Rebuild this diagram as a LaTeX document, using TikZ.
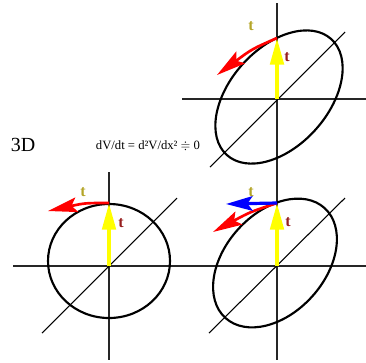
\documentclass[tikz,border=0pt]{standalone}
\usepackage{fontspec}
\usepackage{amssymb}
\setmainfont{Liberation Serif}
\usetikzlibrary{arrows.meta}
\definecolor{tyel}{RGB}{255,255,0}
\definecolor{tred}{RGB}{255,0,0}
\definecolor{tblue}{RGB}{0,0,255}
\definecolor{tolive}{RGB}{180,165,40}
\definecolor{tdred}{RGB}{150,30,30}
\begin{document}
\begin{tikzpicture}[x=0.75pt, y=-0.75pt,
  axis/.style={line width=1pt, black!85},
  diag/.style={line width=0.8pt, black},
  orbit/.style={line width=1.6pt, black},
  yarrow/.style={draw=tyel, line width=3pt, -{Triangle[length=20pt,width=10pt]}},
  rarrow/.style={draw=tred, line width=2pt, -{Stealth[length=22pt,width=11pt,inset=4pt]}},
  barrow/.style={draw=tblue, line width=2.4pt, -{Stealth[length=20pt,width=11pt,inset=4pt]}},
  tlab/.style={font=\bfseries\fontsize{12}{12}\selectfont, inner sep=0pt}
]
\useasboundingbox (0,0) rectangle (366,362);

% labels
\node[font=\fontsize{15}{15}\selectfont, inner sep=0pt] (lab3d) at (23,145) {3D};
\node[font=\fontsize{9.5}{10}\selectfont, inner sep=0pt] (eq) at (148,146) {dV/dt = d²V/dx² $\doteqdot$ 0};

% ---------- top-right panel ----------
\coordinate (o1) at (277,99);
\coordinate (v1t) at (277,3);
\coordinate (v1b) at (277,180);
\coordinate (h1l) at (182,99);
\coordinate (h1r) at (366,99);
\coordinate (d1a) at (210,167);
\coordinate (d1b) at (345,32);
\coordinate (c1) at (279,97);
\coordinate (p1) at (277,38);
\coordinate (r1) at (217,75);
\draw[axis] (v1t) -- (v1b);
\draw[axis] (h1l) -- (h1r);
\draw[diag] (d1a) -- (d1b);
\draw[orbit, rotate around={48:(c1)}] (c1) ellipse [x radius=78, y radius=49];
\draw[yarrow] (o1) -- (p1);
\draw[rarrow] (p1) .. controls (252,49) .. (r1);
\node[tlab, text=tolive] (ta1) at (251,26) {t};
\node[tlab, text=tdred] (tb1) at (287,57) {t};

% ---------- bottom-left panel ----------
\coordinate (o2) at (109,266);
\coordinate (v2t) at (109,172);
\coordinate (v2b) at (109,360);
\coordinate (h2l) at (13,266);
\coordinate (h2r) at (366,266);
\coordinate (d2a) at (42,333);
\coordinate (d2b) at (177,198);
\coordinate (c2) at (109,261);
\coordinate (p2) at (109,203);
\coordinate (r2) at (48,211);
\draw[axis] (v2t) -- (v2b);
\draw[axis] (h2l) -- (h2r);
\draw[diag] (d2a) -- (d2b);
\draw[orbit] (c2) ellipse [x radius=61, y radius=57];
\draw[yarrow] (o2) -- (p2);
\draw[rarrow] (p2) .. controls (85,203) .. (r2);
\node[tlab, text=tolive] (ta2) at (83,192) {t};
\node[tlab, text=tdred] (tb2) at (121,223) {t};

% ---------- bottom-right panel ----------
\coordinate (o3) at (277,266);
\coordinate (v3t) at (277,172);
\coordinate (v3b) at (277,360);
\coordinate (d3a) at (209,333);
\coordinate (d3b) at (345,198);
\coordinate (c3) at (275,263);
\coordinate (p3) at (277,203);
\coordinate (r3) at (213,232);
\coordinate (b3) at (226,204);
\draw[axis] (v3t) -- (v3b);
\draw[diag] (d3a) -- (d3b);
\draw[orbit, rotate around={48:(c3)}] (c3) ellipse [x radius=74, y radius=50];
\draw[yarrow] (o3) -- (p3);
\draw[rarrow] (p3) .. controls (250,212) .. (r3);
\draw[barrow] (p3) -- (b3);
\node[tlab, text=tolive] (ta3) at (251,192) {t};
\node[tlab, text=tdred] (tb3) at (288,222) {t};
\end{tikzpicture}
\end{document}
